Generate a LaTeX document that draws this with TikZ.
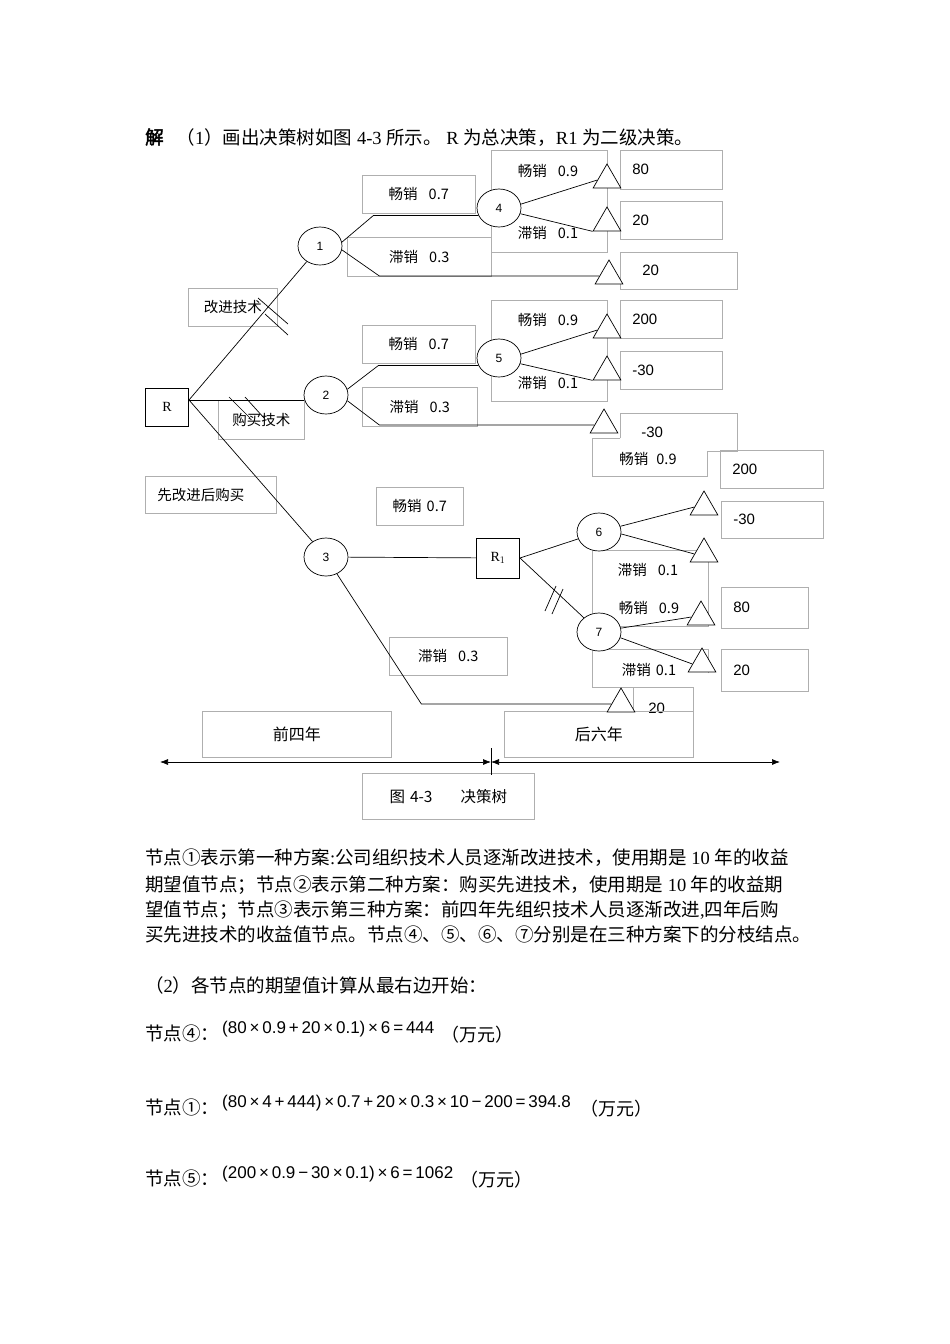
\documentclass[tikz,border=0pt]{standalone}
\usepackage{fontspec}
\setmainfont{Liberation Serif}
\newfontfamily\cjk[AutoFakeBold=2.5]{Noto Sans CJK SC}
\newfontfamily\formfont{Liberation Sans}
\usetikzlibrary{arrows.meta,shapes.geometric,calc}
\newcommand\lat[1]{{\rmfamily #1}}
\definecolor{boxgray}{RGB}{175,175,175}
\tikzset{
    lbl/.style = {draw=boxgray, line width=0.6pt, inner sep=0pt, anchor=north west,
                 font=\cjk\fontsize{14.5}{17}\selectfont},
    val/.style = {draw=boxgray, line width=0.6pt, anchor=north west, align=left,
                 inner xsep=12pt, inner ysep=0pt, font=\formfont\fontsize{15}{18}\selectfont},
    chance/.style = {draw, ellipse, fill=white, line width=0.7pt, minimum width=44pt,
                 minimum height=38pt, inner sep=0pt, font=\formfont\fontsize{12}{14}\selectfont},
    decide/.style = {draw, fill=white, line width=1pt, minimum width=43pt,
                 minimum height=38pt, inner sep=0pt, font=\fontsize{14}{16}\selectfont},
    leaf/.style = {draw, fill=white, regular polygon, regular polygon sides=3,
                 minimum size=32pt, inner sep=0pt, line width=0.7pt},
    txt/.style = {inner sep=0pt, font=\cjk\fontsize{14.5}{17}\selectfont},
    conn/.style = {line width=0.7pt},
    boxline/.style = {draw=boxgray, line width=0.6pt},
    body/.style = {anchor=base west, inner sep=0pt, font=\cjk\fontsize{18.5}{22}\selectfont},
    form/.style = {anchor=base west, inner sep=0pt, font=\formfont\fontsize{17}{20}\selectfont},
    unit/.style = {anchor=base west, inner sep=0pt, font=\cjk\fontsize{18}{21}\selectfont},
}

\begin{document}
\begin{tikzpicture}[x=1pt,y=-1pt,>={Latex[length=8pt,width=6pt]}]
\path[fill=white] (0,0) rectangle (950,1344);

\node[body] (head) at (145,144) {{\bfseries 解}\hspace{13pt}（\lat{1}）画出决策树如图\lat{ 4-3 }所示。\lat{ R }为总决策，\lat{R1 }为二级决策。};

% label boxes
\node[lbl, minimum width=113pt, minimum height=38pt] (p14) at (362,175) {畅销\hspace{11pt}0.7};
\node[lbl, minimum width=144pt, minimum height=39pt] (q1) at (347,237) {滞销\hspace{11pt}0.3};
\node[lbl, minimum width=116pt, minimum height=102pt] (b4) at (491,150) {};
\node[txt] (p4) at (548,171) {畅销\hspace{11pt}0.9};
\node[txt] (q4) at (548,233) {滞销\hspace{11pt}0.1};
\node[val, text width=78pt, minimum height=39pt] (v41) at (620,150) {80};
\node[val, text width=78pt, minimum height=38pt] (v42) at (620,201) {20};
\node[val, text width=73pt, minimum height=37pt, inner xsep=22pt] (v1) at (620,252) {20};

\node[lbl, minimum width=89pt, minimum height=38pt] (a1) at (188,288) {改进技术};
\node[lbl, minimum width=113pt, minimum height=38pt] (p25) at (362,325) {畅销\hspace{11pt}0.7};
\node[lbl, minimum width=115pt, minimum height=39pt] (q2) at (362,387) {滞销\hspace{11pt}0.3};
\node[lbl, minimum width=116pt, minimum height=101pt] (b5) at (491,300) {};
\node[txt] (p5) at (548,320) {畅销\hspace{11pt}0.9};
\node[txt] (q5) at (548,383) {滞销\hspace{11pt}0.1};
\node[val, text width=78pt, minimum height=38pt] (v51) at (620,300) {200};
\node[val, text width=78pt, minimum height=38pt] (v52) at (620,351) {-30};
\node[lbl, minimum width=86pt, minimum height=39pt] (a2) at (218,400) {购买技术};

% overlapping boxes right of node 2
\draw[boxline] (620,438) -- (620,413) -- (737,413) -- (737,451) -- (707,451);
\draw[boxline] (620,438) -- (592,438) -- (592,476) -- (707,476) -- (707,451);
\node[val, inner xsep=0pt, draw=none, anchor=west] (v2) at (641,432) {-30};
\node[txt] (p6) at (648,459) {畅销\hspace{8pt}0.9};
\node[val, text width=79pt, minimum height=38pt] (v61) at (720,450) {200};

\node[lbl, minimum width=131pt, minimum height=37pt, text width=107pt, align=left, inner xsep=12pt] (a3) at (145,476) {先改进后购买};
\node[lbl, minimum width=87pt, minimum height=38pt] (p3) at (376,487) {畅销\hspace{5pt}0.7};
\node[lbl, minimum width=118pt, minimum height=38pt] (q3) at (389,637) {滞销\hspace{11pt}0.3};
\node[val, text width=78pt, minimum height=37pt] (v62) at (721,501) {-30};
\node[lbl, minimum width=116pt, minimum height=76pt] (b6) at (592,550) {};
\draw[boxline] (708,673) -- (708,649) -- (592,649) -- (592,687) -- (693,687);
\draw[boxline] (633,687) -- (633,711);
\node[txt] (q6) at (648,570) {滞销\hspace{11pt}0.1};
\node[txt] (p7) at (649,608) {畅销\hspace{11pt}0.9};
\node[txt] (q7) at (649,670) {滞销\hspace{5pt}0.1};
\node[val, text width=63pt, minimum height=41pt] (v71) at (721,587) {80};
\node[val, text width=63pt, minimum height=42pt] (v72) at (721,649) {20};
\node[val, draw=none, inner xsep=0pt, anchor=west] (v3) at (648,708) {20};

\node[lbl, minimum width=189pt, minimum height=46pt, font=\cjk\fontsize{16}{19}\selectfont] (early) at (202,711) {前四年};
\node[lbl, minimum width=189pt, minimum height=46pt, font=\cjk\fontsize{16}{19}\selectfont] (late) at (504,711) {后六年};
\draw[boxline] (late.north east) -- ++(0,-24);
\node[lbl, minimum width=172pt, minimum height=46pt, font=\cjk\fontsize{15.5}{18}\selectfont] (cap) at (362,773) {图\hspace{5pt}4-3\hspace{28pt}决策树};

% decision and chance nodes
\node[decide] (R) at (167,407) {R};
\node[decide, minimum height=40pt] (R1) at (498,558) {R$_{\scriptstyle 1}$};
\node[chance] (n1) at (320,246) {1};
\node[chance] (n2) at (326,395) {2};
\node[chance] (n3) at (326,557) {3};
\node[chance] (n4) at (499,208) {4};
\node[chance] (n5) at (499,358) {5};
\node[chance] (n6) at (599,532) {6};
\node[chance] (n7) at (599,632) {7};

% end points
\node[leaf] (t41) at (607,180) {};
\node[leaf] (t42) at (607,223) {};
\node[leaf] (t1)  at (609,276) {};
\node[leaf] (t51) at (607,330) {};
\node[leaf] (t52) at (607,372) {};
\node[leaf] (t2)  at (604,425) {};
\node[leaf] (t61) at (704,507) {};
\node[leaf] (t62) at (704,554) {};
\node[leaf] (t71) at (701,617) {};
\node[leaf] (t72) at (702,664) {};
\node[leaf] (t3)  at (621,704) {};

% branches
\coordinate (Ro) at ($(R.east)+(0,-7)$);
\draw[conn] (Ro) -- (n1);
\draw[conn] (Ro) -- (Ro -| n2.west);
\draw[conn] (Ro) -- (n3);
\draw[conn] (n1.10) -- ([xshift=-105pt]n4.200) -- (n4.200);
\draw[conn] (n1.-10) -- ([xshift=-220pt]t1.west) -- (t1.west);
\draw[conn] (n4.10) -- (t41.west);
\draw[conn] (n4.-15) -- (t42.corner 2);
\draw[conn] (n2.15) -- ([xshift=-100pt]n5.200) -- (n5.200);
\draw[conn] (n2.-15) -- ([xshift=-215pt]t2.west) -- (t2.west);
\draw[conn] (n5.10) -- (t51.west);
\draw[conn] (n5.-15) -- (t52.corner 2);
\draw[conn] (n3) -- (R1);
\draw[conn] (n3) -- ([xshift=-190pt]t3.west) -- (t3.west);
\draw[conn] (R1.east) -- (n6);
\draw[conn] (R1.east) -- (n7);
\draw[conn] (n6.15) -- (t61.west);
\draw[conn] (n6.-5) -- (t62.west);
\draw[conn] (n7.10) -- (t71.west);
\draw[conn] (n7.-15) -- (t72.west);

% cut marks
\foreach \x/\y/\u/\v in {258/298/288/324, 265/314/288/335, 229/397/250/418,
    245/397/264/418, 545/611/556/586, 552/614/563/589}
  \draw[conn] (\x,\y) -- (\u,\v);

% time axis
\coordinate (ax0) at (160,762);
\coordinate (ax1) at (491,762);
\coordinate (ax2) at (780,762);
\draw[conn,<->] (ax0) -- (ax1);
\draw[conn,<->] (ax1) -- (ax2);
\draw[conn] ([yshift=14pt]ax1) -- ([yshift=-13pt]ax1);

% text below
\node[body] (l1) at (145,864) {节点①表示第一种方案\lat{:}公司组织技术人员逐渐改进技术，使用期是\lat{ 10 }年的收益};
\node[body] (l2) at (145,891) {期望值节点；节点②表示第二种方案：购买先进技术，使用期是\lat{ 10 }年的收益期};
\node[body] (l3) at (145,916) {望值节点；节点③表示第三种方案：前四年先组织技术人员逐渐改进\lat{,}四年后购};
\node[body] (l4) at (145,941) {买先进技术的收益值节点。节点④、⑤、⑥、⑦分别是在三种方案下的分枝结点。};
\node[body] (l5) at (145,992) {（\lat{2}）各节点的期望值计算从最右边开始：};

\node[body] (k4) at (145,1040) {节点④：};
\node[form] (f4) at (222,1033) {(80\,×\,0.9\,+\,20\,×\,0.1)\,×\,6\,=\,444};
\node[unit] (u4) at (441,1041) {（万元）};
\node[body] (k1) at (145,1114) {节点①：};
\node[form] (f1) at (222,1107) {(80\,×\,4\,+\,444)\,×\,0.7\,+\,20\,×\,0.3\,×\,10\,−\,200\,=\,394.8};
\node[unit] (u1) at (580,1115) {（万元）};
\node[body] (k5) at (145,1185) {节点⑤：};
\node[form] (f5) at (222,1178) {(200\,×\,0.9\,−\,30\,×\,0.1)\,×\,6\,=\,1062};
\node[unit] (u5) at (460,1186) {（万元）};
\end{tikzpicture}
\end{document}
